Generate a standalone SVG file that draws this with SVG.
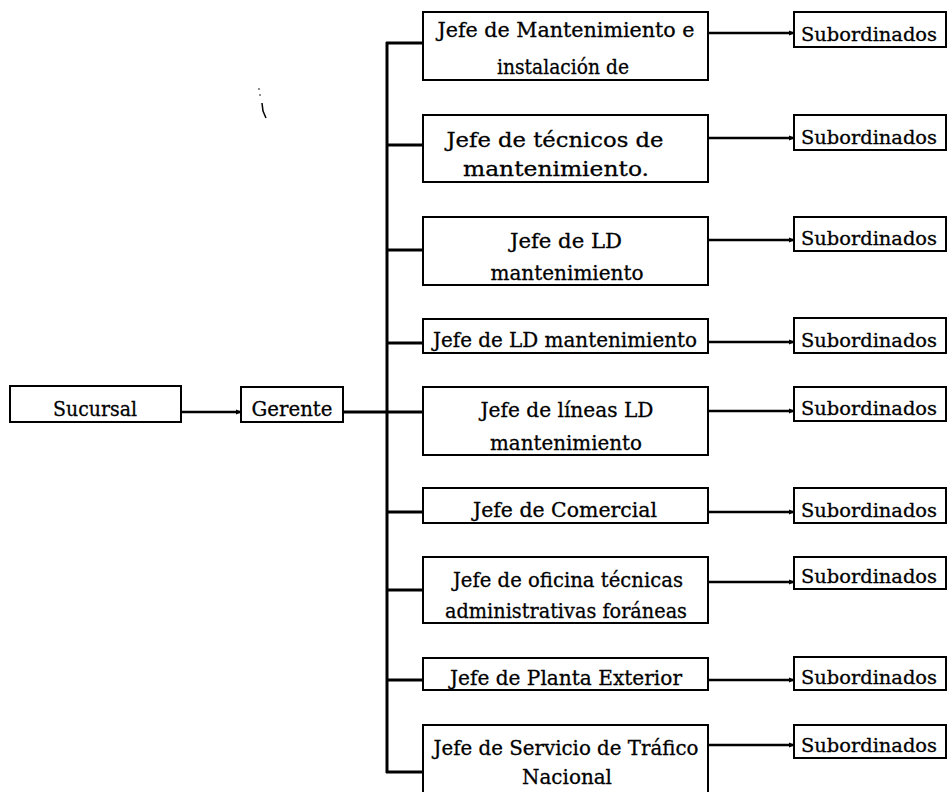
<svg xmlns="http://www.w3.org/2000/svg" width="947" height="792" viewBox="0 0 947 792">
<defs>
<style>
.box{fill:#fff;stroke:#000;stroke-width:2}
.t{font-family:"DejaVu Serif","Liberation Serif",serif;font-size:21px;fill:#000;stroke:#000;stroke-width:0.3;text-anchor:middle}
.s{font-size:19px}
.ln{stroke:#000;stroke-width:3;fill:none}
.rc{stroke:#000;stroke-width:2.5;fill:none;marker-end:url(#ah)}
</style>
<marker id="ah" markerWidth="6" markerHeight="6" refX="5" refY="3" orient="auto" markerUnits="userSpaceOnUse">
<path d="M0,0.5 L6,3 L0,5.5 Z" fill="#000"/>
</marker>
</defs>
<rect width="947" height="792" fill="#fff"/>

<g id="connectors">
<line class="rc" x1="181" y1="412" x2="241" y2="412"/>
<line class="ln" x1="343" y1="412" x2="423" y2="412"/>
<line class="ln" x1="387" y1="42" x2="387" y2="773"/>
<line class="ln" x1="386" y1="43" x2="423" y2="43"/>
<line class="ln" x1="386" y1="145" x2="423" y2="145"/>
<line class="ln" x1="386" y1="250" x2="423" y2="250"/>
<line class="ln" x1="386" y1="343" x2="423" y2="343"/>
<line class="ln" x1="386" y1="512" x2="423" y2="512"/>
<line class="ln" x1="386" y1="590" x2="423" y2="590"/>
<line class="ln" x1="386" y1="680" x2="423" y2="680"/>
<line class="ln" x1="386" y1="772" x2="423" y2="772"/>
<line class="rc" x1="708" y1="33" x2="794" y2="33"/>
<line class="rc" x1="708" y1="138" x2="794" y2="138"/>
<line class="rc" x1="708" y1="240" x2="794" y2="240"/>
<line class="rc" x1="708" y1="342" x2="794" y2="342"/>
<line class="rc" x1="708" y1="411" x2="794" y2="411"/>
<line class="rc" x1="708" y1="512" x2="794" y2="512"/>
<line class="rc" x1="708" y1="582" x2="794" y2="582"/>
<line class="rc" x1="708" y1="680" x2="794" y2="680"/>
<line class="rc" x1="708" y1="745" x2="794" y2="745"/>
</g>

<g id="sucursal">
<rect class="box" x="10" y="386" width="171" height="36"/>
<text class="t" x="95" y="416" textLength="84" lengthAdjust="spacingAndGlyphs">Sucursal</text>
</g>
<g id="gerente">
<rect class="box" x="241" y="387" width="102" height="35"/>
<text class="t" x="292" y="416" textLength="81" lengthAdjust="spacingAndGlyphs">Gerente</text>
</g>

<g id="jefe1">
<rect class="box" x="423" y="12" width="285" height="68"/>
<text class="t" x="566" y="37" textLength="257" lengthAdjust="spacingAndGlyphs">Jefe de Mantenimiento e</text>
<text class="t" x="563" y="74" textLength="132" lengthAdjust="spacingAndGlyphs">instalación de</text>
</g>
<g id="jefe2">
<rect class="box" x="423" y="115" width="285" height="67"/>
<text class="t" x="555" y="147" textLength="217" lengthAdjust="spacingAndGlyphs">Jefe de técnicos de</text>
<text class="t" x="556" y="176" textLength="186" lengthAdjust="spacingAndGlyphs">mantenimiento.</text>
</g>
<g id="jefe3">
<rect class="box" x="423" y="217" width="285" height="68"/>
<text class="t" x="566" y="248" textLength="112" lengthAdjust="spacingAndGlyphs">Jefe de LD</text>
<text class="t" x="567" y="280" textLength="153" lengthAdjust="spacingAndGlyphs">mantenimiento</text>
</g>
<g id="jefe4">
<rect class="box" x="423" y="319" width="285" height="34"/>
<text class="t" x="565" y="347" textLength="264" lengthAdjust="spacingAndGlyphs">Jefe de LD mantenimiento</text>
</g>
<g id="jefe5">
<rect class="box" x="423" y="387" width="285" height="68"/>
<text class="t" x="567" y="417" textLength="173" lengthAdjust="spacingAndGlyphs">Jefe de líneas LD</text>
<text class="t" x="566" y="450" textLength="152" lengthAdjust="spacingAndGlyphs">mantenimiento</text>
</g>
<g id="jefe6">
<rect class="box" x="423" y="488" width="285" height="35"/>
<text class="t" x="565" y="517" textLength="184" lengthAdjust="spacingAndGlyphs">Jefe de Comercial</text>
</g>
<g id="jefe7">
<rect class="box" x="423" y="557" width="285" height="66"/>
<text class="t" x="568" y="587" textLength="230" lengthAdjust="spacingAndGlyphs">Jefe de oficina técnicas</text>
<text class="t" x="566" y="618" textLength="242" lengthAdjust="spacingAndGlyphs">administrativas foráneas</text>
</g>
<g id="jefe8">
<rect class="box" x="423" y="658" width="285" height="32"/>
<text class="t" x="566" y="685" textLength="232" lengthAdjust="spacingAndGlyphs">Jefe de Planta Exterior</text>
</g>
<g id="jefe9">
<rect class="box" x="423" y="725" width="285" height="80"/>
<text class="t" x="566" y="755" textLength="265" lengthAdjust="spacingAndGlyphs">Jefe de Servicio de Tráfico</text>
<text class="t" x="567" y="784" textLength="90" lengthAdjust="spacingAndGlyphs">Nacional</text>
</g>

<g id="sub1"><rect class="box" x="794" y="12" width="152" height="35"/><text class="t s" x="869" y="41" textLength="136" lengthAdjust="spacingAndGlyphs">Subordinados</text></g>
<g id="sub2"><rect class="box" x="794" y="115" width="152" height="35"/><text class="t s" x="869" y="144" textLength="136" lengthAdjust="spacingAndGlyphs">Subordinados</text></g>
<g id="sub3"><rect class="box" x="794" y="217" width="152" height="34"/><text class="t s" x="869" y="245" textLength="136" lengthAdjust="spacingAndGlyphs">Subordinados</text></g>
<g id="sub4"><rect class="box" x="794" y="318" width="152" height="35"/><text class="t s" x="869" y="347" textLength="136" lengthAdjust="spacingAndGlyphs">Subordinados</text></g>
<g id="sub5"><rect class="box" x="794" y="387" width="152" height="34"/><text class="t s" x="869" y="415" textLength="136" lengthAdjust="spacingAndGlyphs">Subordinados</text></g>
<g id="sub6"><rect class="box" x="794" y="488" width="152" height="35"/><text class="t s" x="869" y="517" textLength="136" lengthAdjust="spacingAndGlyphs">Subordinados</text></g>
<g id="sub7"><rect class="box" x="794" y="557" width="152" height="32"/><text class="t s" x="869" y="583" textLength="136" lengthAdjust="spacingAndGlyphs">Subordinados</text></g>
<g id="sub8"><rect class="box" x="794" y="657" width="152" height="33"/><text class="t s" x="869" y="684" textLength="136" lengthAdjust="spacingAndGlyphs">Subordinados</text></g>
<g id="sub9"><rect class="box" x="794" y="725" width="152" height="33"/><text class="t s" x="869" y="752" textLength="136" lengthAdjust="spacingAndGlyphs">Subordinados</text></g>

<path d="M262,103 L263,111 L266,118" stroke="#000" stroke-width="1.5" fill="none"/>
<circle cx="259" cy="89" r="0.8" fill="#000"/>
<circle cx="260" cy="95" r="0.8" fill="#000"/>
</svg>
